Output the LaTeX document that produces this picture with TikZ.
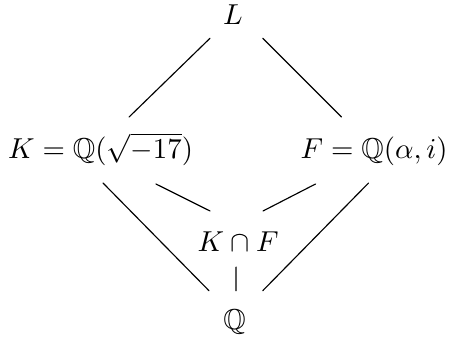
\documentclass[tikz,border=0pt]{standalone}
\usepackage{amsmath,amssymb}
\usepackage{tikz}

\begin{document}
\begin{tikzpicture}[field/.style={inner sep=0pt,anchor=base},line cap=round]
\useasboundingbox (0,0) rectangle (5.49,4.136);
\node[field] (L) at (2.843,3.831) {$L$};
\node[field] (K) at (1.226,2.208) {$K=\mathbb{Q}(\sqrt{-17})$};
\node[field] (F) at (4.563,2.208) {$F=\mathbb{Q}(\alpha,i)$};
\node[field] (KF) at (2.904,1.065) {$K\cap F$};
\node[field] (Q) at (2.861,0.122) {$\mathbb{Q}$};
% top diamond
\draw ([shift={(-0.281,-0.162)}]L.base) -- ([shift={(0.348,0.5)}]K.base);
\draw ([shift={(0.362,-0.162)}]L.base) -- ([shift={(-0.397,0.5)}]F.base);
% down to the intersection
\draw ([shift={(0.677,-0.317)}]K.base) -- ([shift={(-0.342,0.497)}]KF.base);
\draw ([shift={(-0.714,-0.317)}]F.base) -- ([shift={(0.305,0.497)}]KF.base);
\draw ([shift={(-0.024,-0.187)}]KF.base) -- ([shift={(0.018,0.467)}]Q.base);
% down to Q
\draw ([shift={(0.031,-0.305)}]K.base) -- ([shift={(-0.311,0.467)}]Q.base);
\draw ([shift={(-0.067,-0.305)}]F.base) -- ([shift={(0.344,0.467)}]Q.base);
\end{tikzpicture}
\end{document}
